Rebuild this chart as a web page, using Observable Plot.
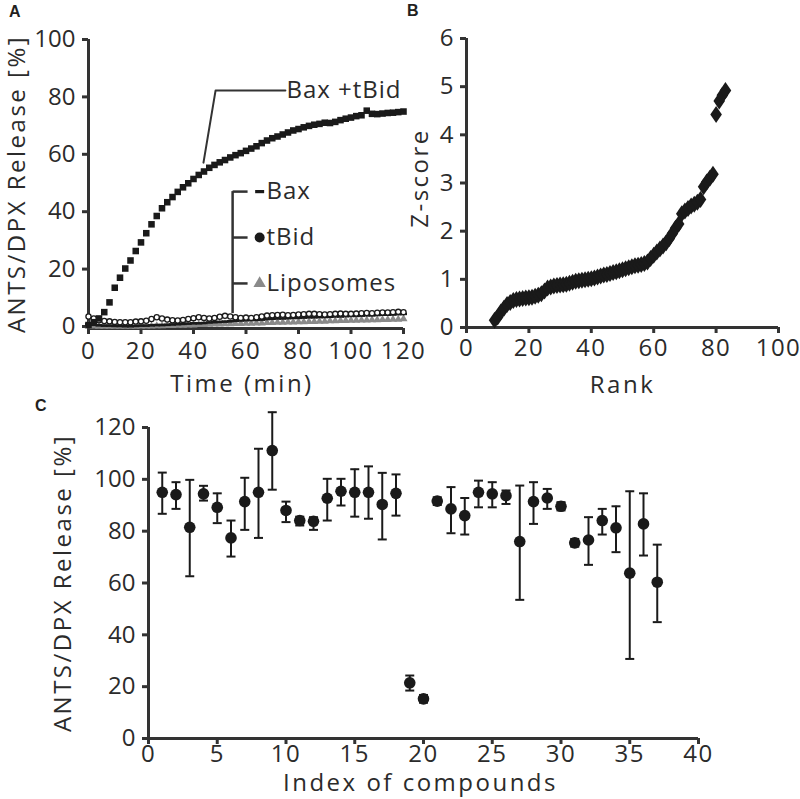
<!DOCTYPE html>
<html><head><meta charset="utf-8">
<script src="https://cdn.jsdelivr.net/npm/d3@7"></script>
<script src="https://cdn.jsdelivr.net/npm/@observablehq/plot@0.6"></script>
<style>
body{margin:0;background:#fff;}
#wrap{position:relative;width:800px;height:799px;overflow:hidden;font-family:"Open Sans",sans-serif;color:#2b2b2b;}
#wrap svg{position:absolute;overflow:visible;}
.panel{position:absolute;font-family:"Liberation Sans",Arial,sans-serif;font-weight:bold;font-size:16px;color:#231f20;line-height:1;}
</style></head><body><div id="wrap"></div>
<script>
// ---------- Panel A data ----------
const timeMin = [0,2,4,6,8,10,12,14,16,18,20,22,24,26,28,30,32,34,36,38,40,42,44,46,48,50,52,54,56,58,60,62,64,66,68,70,72,74,76,78,80,82,84,86,88,90,92,94,96,98,100,102,104,106,108,110,112,114,116,118,120];
const baxTbid = [0.5,1.5,2.8,5.0,8.4,13.5,17.0,20.2,23.0,26.3,29.3,32.5,35.6,38.5,41.2,43.3,45.1,46.9,48.5,49.9,51.4,52.8,54.0,55.3,56.3,57.2,58.0,58.9,59.7,60.4,61.2,62.0,62.8,63.9,64.8,65.6,66.2,66.9,67.6,68.3,68.8,69.4,69.9,70.3,70.6,71.0,70.9,71.3,71.9,72.4,72.8,73.3,73.6,75.2,74.1,74.0,74.2,74.4,74.5,74.7,74.9];
const tBid = [3.5,2.8,2.2,1.9,1.8,1.6,1.5,1.5,1.5,1.7,1.8,2.0,2.6,3.2,2.8,2.4,2.2,2.1,2.3,2.6,2.9,3.2,3.0,2.8,3.0,3.4,3.7,3.5,3.2,3.0,3.1,3.0,3.2,3.5,3.8,3.9,4.0,4.1,3.9,4.0,4.2,4.3,4.4,4.4,4.3,4.2,4.3,4.4,4.5,4.4,4.4,4.5,4.6,4.7,4.6,4.8,4.9,4.9,5.0,5.1,5.0];
const bax = [0.8,0.6,0.4,0.3,0.3,0.2,0.2,0.1,0.1,0.2,0.3,0.3,0.4,0.5,0.5,0.6,0.7,0.8,0.9,1.0,1.1,1.1,1.2,1.4,1.5,1.6,1.7,1.8,2.0,2.1,2.2,2.3,2.3,2.4,2.6,2.7,2.8,2.8,2.9,3.0,3.0,3.1,3.2,3.2,3.3,3.3,3.4,3.5,3.5,3.6,3.7,3.7,3.8,3.9,3.9,4.0,4.1,4.1,4.2,4.3,4.4];
const liposomes = [0.2,0.1,0.0,0.0,0.0,0.0,0.0,0.0,0.0,0.0,0.1,0.1,0.1,0.2,0.2,0.3,0.3,0.4,0.4,0.5,0.5,0.6,0.6,0.7,0.8,0.8,0.9,0.9,1.0,1.0,1.1,1.1,1.2,1.2,1.3,1.3,1.4,1.4,1.5,1.5,1.6,1.6,1.7,1.7,1.8,1.8,1.9,1.9,2.0,2.0,2.1,2.1,2.2,2.2,2.3,2.3,2.4,2.4,2.5,2.5,2.6];
const ticksTime = [0,20,40,60,80,100,120];
const ticksRelease = [0,20,40,60,80,100];
// annotation leader (data units) and legend
const leaderT = [43.8,48.4,75.0];
const leaderV = [57.1,82.2,82.2];
const leaderLabel = "Bax +tBid";
const legendNames = ["Bax","tBid","Liposomes"];
const legendLevels = [47,31,15];

// ---------- Panel B data ----------
const rank = [9,10,11,12,13,14,15,16,17,18,19,20,21,22,23,24,25,26,27,28,29,30,31,32,33,34,35,36,37,38,39,40,41,42,43,44,45,46,47,48,49,50,51,52,53,54,55,56,57,58,59,60,61,62,63,64,65,66,67,68,69,70,71,72,73,74,75,76,77,78,79,80,81,82,83];
const zScore = [0.15,0.22,0.32,0.40,0.48,0.52,0.56,0.58,0.59,0.60,0.61,0.62,0.63,0.65,0.67,0.70,0.76,0.82,0.84,0.86,0.87,0.88,0.89,0.90,0.92,0.94,0.96,0.97,0.98,0.99,1.00,1.01,1.03,1.05,1.07,1.09,1.10,1.12,1.14,1.16,1.18,1.20,1.22,1.24,1.26,1.28,1.29,1.31,1.33,1.36,1.43,1.50,1.57,1.63,1.69,1.76,1.85,1.95,2.06,2.15,2.36,2.42,2.47,2.52,2.56,2.60,2.66,2.92,3.02,3.10,3.18,4.42,4.70,4.82,4.92];
const ticksRank = [0,20,40,60,80,100];
const ticksZ = [0,1,2,3,4,5,6];

// ---------- Panel C data ----------
const compoundIndex = [1,2,3,4,5,6,7,8,9,10,11,12,13,14,15,16,17,18,19,20,21,22,23,24,25,26,27,28,29,30,31,32,33,34,35,36,37];
const releaseMean = [95.0,94.1,81.5,94.4,89.2,77.4,91.4,95.0,111.1,88.0,84.1,83.8,92.7,95.4,95.0,95.0,90.3,94.6,21.5,15.3,91.6,88.6,86.0,95.0,94.4,93.7,76.0,91.4,92.8,89.6,75.5,76.6,84.1,81.3,63.8,82.8,60.3];
const releaseHigh = [102.6,98.9,99.8,97.5,94.6,84.1,100.6,111.8,125.9,91.4,85.6,85.4,100.2,100.2,103.9,105.0,102.5,101.9,24.3,16.8,93.1,97.0,92.8,99.5,98.9,95.7,97.6,98.9,96.3,91.2,77.0,85.4,88.6,89.6,95.4,94.6,74.8];
const releaseLow = [86.7,88.6,62.6,91.8,83.1,70.2,80.5,77.4,96.0,83.5,82.2,80.5,84.1,89.9,85.6,84.8,76.8,86.0,18.5,13.8,90.1,79.2,78.7,89.2,89.2,90.5,53.5,82.8,88.6,88.0,74.0,67.0,78.7,71.9,30.7,70.6,44.9];
const ticksIndex = [0,5,10,15,20,25,30,35,40];
const ticksReleaseC = [0,20,40,60,80,100,120];

// ---------- helpers ----------
const INK = "#1a1a1a", AX = "#333", GRAY = "#8a8a8a", TXT = "#2b2b2b";
const dashSym = {draw(c){c.moveTo(-3.5,-1.3);c.lineTo(3.5,-1.3);c.lineTo(3.5,1.3);c.lineTo(-3.5,1.3);c.closePath();}};
const bigDashSym = {draw(c){c.moveTo(-4.5,-1.6);c.lineTo(4.5,-1.6);c.lineTo(4.5,1.6);c.lineTo(-4.5,1.6);c.closePath();}};
const tallDiamond = {draw(c){c.moveTo(0,-8.5);c.lineTo(5.8,0);c.lineTo(0,8.5);c.lineTo(-5.8,0);c.closePath();}};
const capSym = {draw(c){c.moveTo(-4.5,0);c.lineTo(4.5,0);}};
const baseStyle = {fontFamily:"Open Sans, sans-serif", fontSize:"24px", color:TXT, background:"transparent", overflow:"visible"};
const fmt = d3.format("d");
function axes(xt, yt, xPad){
  return [
    Plot.axisX({ticks: xt, tickFormat: fmt, tickSize: 6, tickPadding: xPad, strokeWidth: 3, stroke: AX, fill: TXT, fontSize: 24, label: null}),
    Plot.axisY({ticks: yt, tickFormat: fmt, tickSize: 6, tickPadding: 7, strokeWidth: 3, stroke: AX, fill: TXT, fontSize: 24, label: null})
  ];
}
const titleTexts = new Set(["ANTS/DPX Release [%]","Time (min)","Z-score","Rank","Index of compounds"]);
const legendTexts = new Set(["Bax","tBid","Liposomes","Bax +tBid"]);
function title(text, opts){
  return Plot.text([text], Object.assign({text: d => d, textAnchor: "middle", lineAnchor: "middle", fontSize: 24, fill: TXT}, opts));
}
function place(svg, left, top){
  svg.style.left = left + "px"; svg.style.top = top + "px";
  const s = d3.select(svg);
  s.selectAll("text").filter(function(){ return titleTexts.has(this.textContent); })
    .attr("letter-spacing", "2.5").style("letter-spacing", "2.5px");
  s.selectAll("text").filter(function(){ return legendTexts.has(this.textContent); })
    .attr("letter-spacing", "1").style("letter-spacing", "1px");
  s.selectAll('g[aria-label="x-axis tick label"] text').attr("letter-spacing", "1.5").style("letter-spacing", "1.5px");
  document.getElementById("wrap").appendChild(svg);
}

// ---------- Panel A ----------
const rowsA = timeMin.map((t,i)=>({t, bt: baxTbid[i], tb: tBid[i], bx: bax[i], lp: liposomes[i]}));
const leader = leaderT.map((t,i)=>({t, v: leaderV[i]}));
const legX = 54.9, legTickEnd = 60.6, legMark = 65.2, legText = 67.8;
const legendRows = legendNames.map((n,i)=>({n, v: legendLevels[i]}));
const yMinA = -0.7;
const plotA = Plot.plot({
  width: 420, height: 390, marginLeft: 88, marginRight: 17, marginTop: 39, marginBottom: 62,
  style: baseStyle,
  x: {domain: [0,120]}, y: {domain: [yMinA,100]},
  marks: [
    ...axes(ticksTime, ticksRelease, 7),
    Plot.ruleX([0], {y1: yMinA, y2: 100, stroke: AX, strokeWidth: 3}),
    Plot.ruleY([yMinA], {x1: 0, x2: 120, stroke: AX, strokeWidth: 3}),
    Plot.dot(rowsA, {x: "t", y: "lp", symbol: "triangle", r: 3, fill: GRAY}),
    Plot.dot(rowsA, {x: "t", y: "bx", symbol: dashSym, fill: INK}),
    Plot.dot(rowsA, {x: "t", y: "tb", symbol: "circle", r: 2.6, fill: "white", stroke: INK, strokeWidth: 1.3}),
    Plot.dot(rowsA, {x: "t", y: "bt", symbol: "square", r: 3.7, fill: INK}),
    Plot.line(leader, {x: "t", y: "v", stroke: AX, strokeWidth: 2}),
    Plot.text([leaderLabel], {x: leaderT[2], y: leaderV[2], text: d=>d, textAnchor: "start", lineAnchor: "middle", dx: 1, fontSize: 24, fill: TXT}),
    Plot.ruleX([legX], {y1: legendLevels[0], y2: 4.5, stroke: AX, strokeWidth: 2.5}),
    Plot.link(legendRows, {x1: legX, x2: legTickEnd, y1: "v", y2: "v", stroke: AX, strokeWidth: 2.5}),
    Plot.dot([legendRows[0]], {x: legMark, y: "v", symbol: bigDashSym, fill: INK}),
    Plot.dot([legendRows[1]], {x: legMark, y: "v", symbol: "circle", r: 5, fill: INK}),
    Plot.dot([legendRows[2]], {x: legMark, y: "v", symbol: "triangle", r: 4.6, fill: GRAY}),
    Plot.text(legendRows, {x: legText, y: "v", text: "n", textAnchor: "start", lineAnchor: "middle", fontSize: 24, fill: TXT}),
    title("ANTS/DPX Release [%]", {frameAnchor: "left", dx: -71, rotate: -90}),
    title("Time (min)", {frameAnchor: "bottom", dx: -4, dy: 56})
  ]
});
place(plotA, 0, 0);

// ---------- Panel B ----------
const rowsB = rank.map((r,i)=>({r, z: zScore[i]}));
const plotB = Plot.plot({
  width: 400, height: 390, marginLeft: 66, marginRight: 22, marginTop: 38, marginBottom: 63,
  style: baseStyle,
  x: {domain: [0,100]}, y: {domain: [0,6]},
  marks: [
    ...axes(ticksRank, ticksZ, 5),
    Plot.ruleX([0], {y1: 0, y2: 6, stroke: AX, strokeWidth: 3}),
    Plot.ruleY([0], {x1: 0, x2: 100, stroke: AX, strokeWidth: 3}),
    Plot.dot(rowsB, {x: "r", y: "z", symbol: tallDiamond, fill: INK}),
    title("Z-score", {frameAnchor: "left", dx: -46, dy: -5, rotate: -90}),
    title("Rank", {frameAnchor: "bottom", dx: 0, dy: 58})
  ]
});
place(plotB, 400, 0);

// ---------- Panel C ----------
const rowsC = compoundIndex.map((i,k)=>({i, m: releaseMean[k], hi: releaseHigh[k], lo: releaseLow[k]}));
const plotC = Plot.plot({
  width: 800, height: 419, marginLeft: 148, marginRight: 102, marginTop: 47, marginBottom: 61,
  style: baseStyle,
  x: {domain: [0,40]}, y: {domain: [0,120]},
  marks: [
    ...axes(ticksIndex, ticksReleaseC, 0),
    Plot.ruleX([0], {y1: 0, y2: 120, stroke: AX, strokeWidth: 3}),
    Plot.ruleY([0], {x1: 0, x2: 40, stroke: AX, strokeWidth: 3}),
    Plot.ruleX(rowsC, {x: "i", y1: "lo", y2: "hi", stroke: INK, strokeWidth: 2}),
    Plot.dot(rowsC, {x: "i", y: "hi", symbol: capSym, stroke: INK, strokeWidth: 2, fill: "none"}),
    Plot.dot(rowsC, {x: "i", y: "lo", symbol: capSym, stroke: INK, strokeWidth: 2, fill: "none"}),
    Plot.dot(rowsC, {x: "i", y: "m", r: 5.8, fill: INK}),
    title("ANTS/DPX Release [%]", {frameAnchor: "left", dx: -85, rotate: -90}),
    title("Index of compounds", {frameAnchor: "bottom", dx: -3, dy: 45})
  ]
});
place(plotC, 0, 380);

// panel letters
[["A",9,4],["B",407,3],["C",35,398]].forEach(([t,x,y])=>{
  const d = document.createElement("div"); d.className = "panel"; d.textContent = t;
  d.style.left = x + "px"; d.style.top = y + "px";
  document.getElementById("wrap").appendChild(d);
});
</script></body></html>
